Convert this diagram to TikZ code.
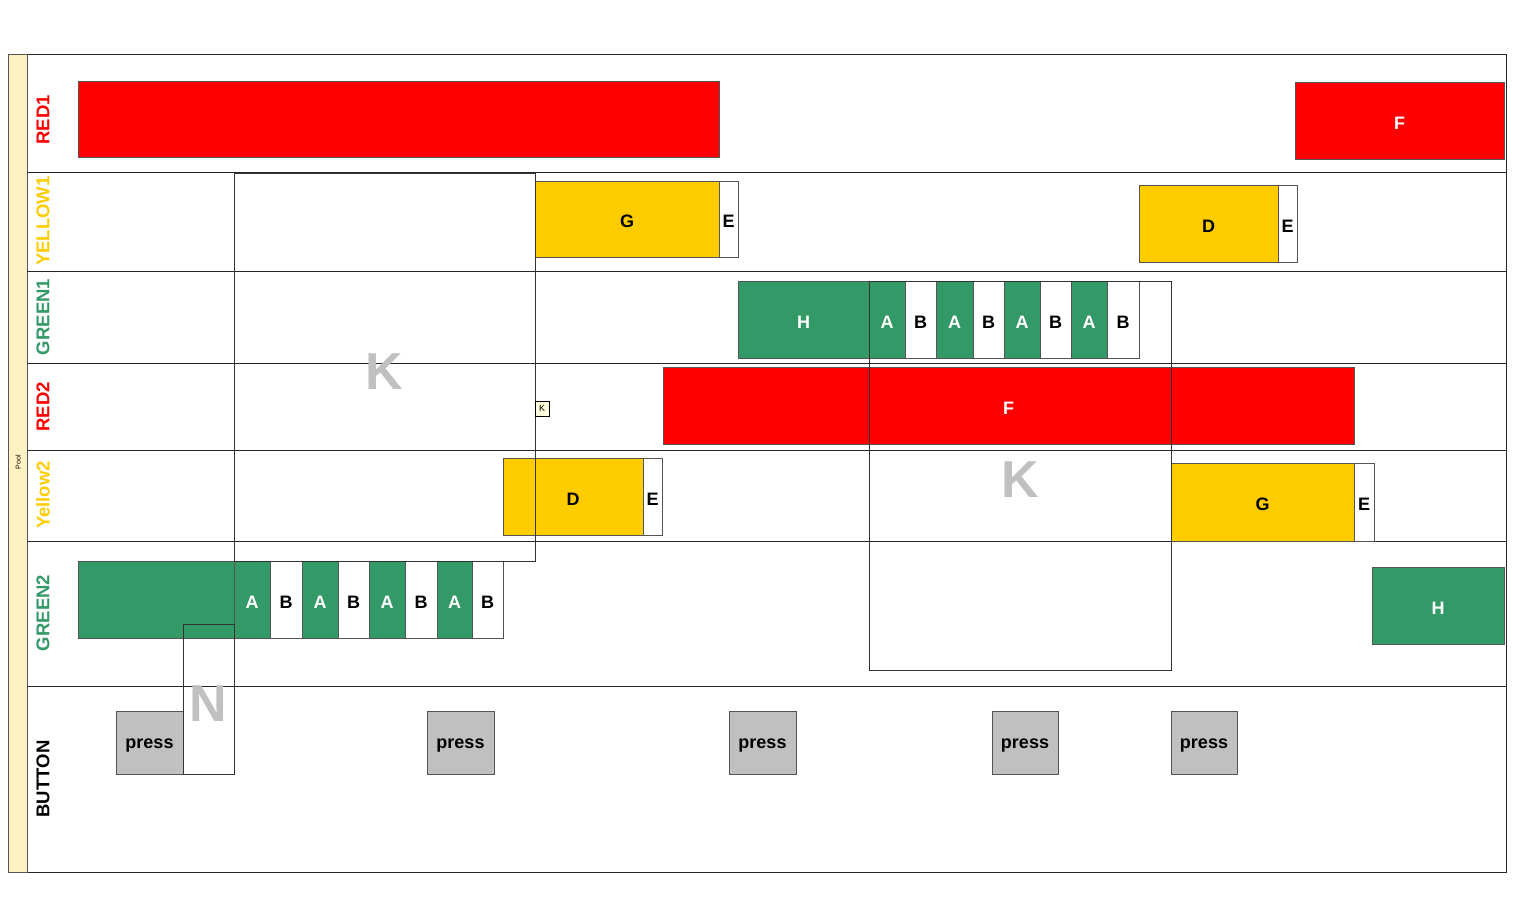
\documentclass[tikz,border=0pt]{standalone}
\usepackage{fontspec}
\setmainfont{Liberation Sans}
\definecolor{bred}{HTML}{FF0000}
\definecolor{byellow}{HTML}{FFCC00}
\definecolor{bgreen}{HTML}{339966}
\definecolor{bgray}{HTML}{C0C0C0}
\definecolor{kgray}{HTML}{C0C0C0}
\definecolor{poolbg}{HTML}{FFF2C2}
\definecolor{edge}{HTML}{555555}
\definecolor{notebg}{HTML}{FFFFE0}
\newcommand\mkbox[7]{\node[#6, inner sep=0pt, outer sep=0pt, minimum width={(#4-#2)*1pt}, minimum height={(#5-#3)*1pt}] (#1) at ({(#2+#4)/2},{(#3+#5)/2}) {#7};}
\tikzset{
  task/.style={draw=edge, line width=0.8pt, text height=17pt, text depth=0pt, font=\bfseries\fontsize{18}{20}\selectfont},
  redt/.style={task, fill=bred, text=white},
  yelt/.style={task, fill=byellow, text=black},
  grnt/.style={task, fill=bgreen, text=white},
  wht/.style={task, fill=white, text=black},
  pressbox/.style={task, fill=bgray, text=black, text height=12.4pt},
  grpbox/.style={draw=black!80, line width=0.7pt, text=kgray, text height=44pt, text depth=0pt, font=\bfseries\fontsize{52}{56}\selectfont},
  lanelbl/.style={rotate=90, inner sep=0pt, font=\bfseries\fontsize{18.5}{20}\selectfont},
  lanesep/.style={draw=black!85, line width=0.9pt},
}
\begin{document}
\begin{tikzpicture}[x=1pt,y=-1pt]
\useasboundingbox (0,0) rectangle (1540,911);
\fill[white] (0,0) rectangle (1540,911);
% pool
\draw[lanesep] (8,54) rectangle (1506,872);
\filldraw[fill=poolbg, draw=edge, line width=0.8pt] (8,54) rectangle (27,872);
\node[rotate=90, font=\fontsize{7}{8}\selectfont, inner sep=0pt] (pool) at (18,462) {Pool};
\foreach \yy in {172,271,363,450,541,686} {\draw[lanesep] (27,\yy) -- (1506,\yy);}
% lane labels
\node[lanelbl, text=bred] (l1) at (43,120) {RED1};
\node[lanelbl, text=byellow] (l2) at (43,221) {YELLOW1};
\node[lanelbl, text=bgreen] (l3) at (43,317) {GREEN1};
\node[lanelbl, text=bred] (l4) at (43,407) {RED2};
\node[lanelbl, text=byellow] (l5) at (43,495) {Yellow2};
\node[lanelbl, text=bgreen] (l6) at (43,613) {GREEN2};
\node[lanelbl, text=black] (l7) at (43,779) {BUTTON};
% RED1
\mkbox{r1a}{78}{81}{719}{157}{redt}{}
\mkbox{r1f}{1295}{82}{1504}{159}{redt}{F}
% YELLOW1
\mkbox{y1g}{535}{181}{719}{257}{yelt}{G}
\mkbox{y1e}{719}{181}{738}{257}{wht}{E}
\mkbox{y1d}{1139}{185}{1278}{262}{yelt}{D}
\mkbox{y1e2}{1278}{185}{1297}{262}{wht}{E}
% GREEN1
\mkbox{g1h}{738}{281}{869}{358}{grnt}{H}
\mkbox{g1a1}{869}{281}{905}{358}{grnt}{A}
\mkbox{g1b1}{905}{281}{936}{358}{wht}{B}
\mkbox{g1a2}{936}{281}{973}{358}{grnt}{A}
\mkbox{g1b2}{973}{281}{1004}{358}{wht}{B}
\mkbox{g1a3}{1004}{281}{1040}{358}{grnt}{A}
\mkbox{g1b3}{1040}{281}{1071}{358}{wht}{B}
\mkbox{g1a4}{1071}{281}{1107}{358}{grnt}{A}
\mkbox{g1b4}{1107}{281}{1139}{358}{wht}{B}
% RED2
\mkbox{r2f}{663}{367}{1354}{444}{redt}{F}
% Yellow2
\mkbox{y2d}{503}{458}{643}{535}{yelt}{D}
\mkbox{y2e}{643}{458}{662}{535}{wht}{E}
\mkbox{y2g}{1171}{463}{1354}{541}{yelt}{G}
\mkbox{y2e2}{1354}{463}{1374}{541}{wht}{E}
% GREEN2
\mkbox{g2a}{78}{561}{234}{638}{grnt}{}
\mkbox{g2a1}{234}{561}{270}{638}{grnt}{A}
\mkbox{g2b1}{270}{561}{302}{638}{wht}{B}
\mkbox{g2a2}{302}{561}{338}{638}{grnt}{A}
\mkbox{g2b2}{338}{561}{369}{638}{wht}{B}
\mkbox{g2a3}{369}{561}{405}{638}{grnt}{A}
\mkbox{g2b3}{405}{561}{437}{638}{wht}{B}
\mkbox{g2a4}{437}{561}{472}{638}{grnt}{A}
\mkbox{g2b4}{472}{561}{503}{638}{wht}{B}
\mkbox{g2h}{1372}{567}{1504}{644}{grnt}{H}
% BUTTON
\mkbox{p1}{116}{711}{183}{774}{pressbox}{press}
\mkbox{p2}{427}{711}{494}{774}{pressbox}{press}
\mkbox{p3}{729}{711}{796}{774}{pressbox}{press}
\mkbox{p4}{992}{711}{1058}{774}{pressbox}{press}
\mkbox{p5}{1171}{711}{1237}{774}{pressbox}{press}
% groups
\mkbox{k1}{234}{173}{535}{561}{grpbox}{K}
\mkbox{k2}{869}{281}{1171}{670}{grpbox}{K}
\mkbox{n1}{183}{624}{234}{774}{grpbox}{N}
% small note
\mkbox{kn}{535}{401}{549}{416}{draw=black, line width=0.7pt, fill=notebg, font=\fontsize{9}{10}\selectfont}{K}
\end{tikzpicture}
\end{document}
